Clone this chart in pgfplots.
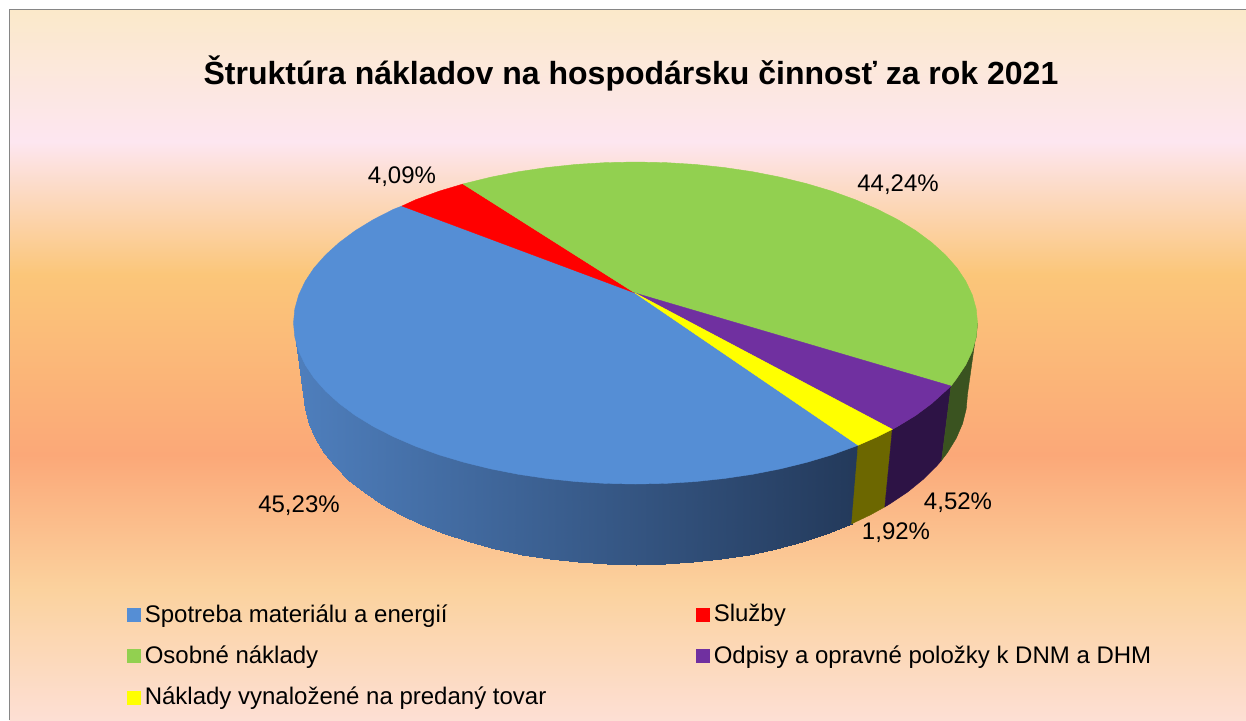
\documentclass[border=0pt]{standalone}
\usepackage{fontspec}
\setmainfont{Liberation Sans}
\usepackage{pgfplots}
\pgfplotsset{compat=1.18}

\definecolor{cblue}{HTML}{558ED5}
\definecolor{cred}{HTML}{FF0000}
\definecolor{cgreen}{HTML}{92D050}
\definecolor{cpurple}{HTML}{7030A0}
\definecolor{cyellow}{HTML}{FFFF00}
\definecolor{sgreen}{HTML}{3A5320}
\definecolor{spurple}{HTML}{2D1345}
\definecolor{syellow}{HTML}{6C6700}
\definecolor{frame}{HTML}{868686}
\definecolor{bg1}{HTML}{FBE9CA}
\definecolor{bg2}{HTML}{FDE6F0}
\definecolor{bg3}{HTML}{FBC679}
\definecolor{bg4}{HTML}{FBA878}
\definecolor{bg5}{HTML}{FBD29E}
\definecolor{bg6}{HTML}{FDDFD4}

\pgfdeclareverticalshading{chartbg}{100bp}{
  color(0bp)=(bg6); color(25bp)=(bg6); color(34.15bp)=(bg5); color(43.66bp)=(bg4);
  color(56.34bp)=(bg3); color(65.7bp)=(bg2); color(75bp)=(bg1); color(100bp)=(bg1)}

\begin{document}
\begin{tikzpicture}[x=1pt,y=1pt]
\path[use as bounding box] (0,0) rectangle (623,360);
\shade[shading=chartbg] (4.75,0) rectangle (623,355.25);
\draw[frame,line width=0.8pt] (4.75,0) -- (4.75,355.25) -- (623,355.25);

\begin{axis}[
  at={(0,0)},anchor=south west,
  scale only axis,width=623pt,height=360pt,
  xmin=0,xmax=1246,ymin=0,ymax=720,y dir=reverse,
  hide axis,no marks,
  colormap={side}{rgb255=(78,126,188) rgb255=(35,57,90)},
  legend columns=2,
  legend cell align=left,
  legend image code/.code={\fill[#1] (0pt,-3.2pt) rectangle (6.5pt,3.3pt);},
  legend style={
    at={(axis cs:127,600)},anchor=north west,
    draw=none,fill=none,font=\fontsize{12pt}{13.5pt}\selectfont,
    row sep=6.3pt,inner sep=0pt,
    /tikz/every even column/.append style={column sep=73pt},
  },
]
% side of the pie
\addplot[forget plot,surf,shader=interp,mesh/cols=2,point meta=x,
  point meta min=300,point meta max=860] coordinates {
  (858.1,443.2)(851.6,523.8)
  (855.3,444.3)(848.9,525)
  (831.7,452.9)(825.9,534.1)
  (806.5,460.4)(801.5,542.1)
  (780,466.9)(775.8,549)
  (752.5,472.3)(749,554.7)
  (724,476.5)(721.4,559.2)
  (694.9,479.6)(693.1,562.4)
  (665.3,481.4)(664.5,564.3)
  (635.5,482)(635.5,565)
  (605.7,481.4)(606.5,564.3)
  (576.1,479.6)(577.9,562.4)
  (547,476.5)(549.6,559.2)
  (518.5,472.3)(522,554.7)
  (491,466.9)(495.2,549)
  (464.5,460.4)(469.5,542.1)
  (439.3,452.9)(445.1,534.1)
  (415.7,444.3)(422.1,525)
  (393.7,434.8)(400.7,514.9)
  (373.5,424.5)(381.2,503.9)
  (355.3,413.4)(363.5,492.1)
  (339.3,401.5)(348,479.5)
  (325.5,389)(334.6,466.3)
  (314.1,376.1)(323.5,452.5)
  (305.2,362.7)(314.8,438.3)
  (298.7,349)(308.5,423.7)
  (294.8,335)(304.8,408.9)
  (293.5,321)(303.5,394)
};
\addplot[forget plot,fill=syellow,draw=syellow,line width=0.2pt] coordinates {
  (892.3,429.3)(877.3,436.8)(858.1,445.2)(851.6,523.8)(870.3,514.9)(884.8,506.9)} -- cycle;
\addplot[forget plot,fill=spurple,draw=spurple,line width=0.2pt] coordinates {
  (951,386)(945.5,391)(931.7,403.5)(915.7,415.4)(897.5,426.5)(892.3,429.3)
  (884.8,506.9)(889.8,503.9)(907.5,492.1)(923,479.5)(936.4,466.3)(941.6,460.3)} -- cycle;
\addplot[forget plot,fill=sgreen,draw=sgreen,line width=0.2pt] coordinates {
  (977.5,323)(976.2,337)(972.3,351)(965.8,364.7)(956.9,378.1)(951,386)
  (941.6,460.3)(947.5,452.5)(956.2,438.3)(962.5,423.7)(966.2,408.9)(967.5,394)} -- cycle;

% top of the pie, one slice per series
\addplot[fill=cblue,draw=cblue,line width=0.2pt] coordinates {
  (635,293)(858.1,445.2)(855.3,446.3)(831.7,454.9)(806.5,462.4)(780,468.9)(752.5,474.3)
  (724,478.5)(694.9,481.6)(665.3,483.4)(635.5,484)(605.7,483.4)(576.1,481.6)(547,478.5)
  (518.5,474.3)(491,468.9)(464.5,462.4)(439.3,454.9)(415.7,446.3)(393.7,436.8)(373.5,426.5)
  (355.3,415.4)(339.3,403.5)(325.5,391)(314.1,378.1)(305.2,364.7)(298.7,351)(294.8,337)
  (293.5,323)(294.8,309)(298.7,295)(305.2,281.3)(314.1,267.9)(325.5,255)(339.3,242.5)
  (355.3,230.6)(373.5,219.5)(393.7,209.2)(402,206)} -- cycle;
\addlegendentry{Spotreba materiálu a energií}
\addplot[fill=cred,draw=cred,line width=0.2pt] coordinates {
  (635,293)(402,206)(415.7,199.7)(439.3,191.1)(463,184)} -- cycle;
\addlegendentry{Služby}
\addplot[fill=cgreen,draw=cgreen,line width=0.2pt] coordinates {
  (635,293)(463,184)(464.5,183.6)(491,177.1)(518.5,171.7)(547,167.5)(576.1,164.4)(605.7,162.6)
  (635.5,162)(665.3,162.6)(694.9,164.4)(724,167.5)(752.5,171.7)(780,177.1)(806.5,183.6)
  (831.7,191.1)(855.3,199.7)(877.3,209.2)(897.5,219.5)(915.7,230.6)(931.7,242.5)(945.5,255)
  (956.9,267.9)(965.8,281.3)(972.3,295)(976.2,309)(977.5,323)(976.2,337)(972.3,351)
  (965.8,364.7)(956.9,378.1)(951,386)} -- cycle;
\addlegendentry{Osobné náklady}
\addplot[fill=cpurple,draw=cpurple,line width=0.2pt] coordinates {
  (635,293)(951,386)(945.5,391)(931.7,403.5)(915.7,415.4)(897.5,426.5)(892.3,429.3)} -- cycle;
\addlegendentry{Odpisy a opravné položky k DNM a DHM}
\addplot[fill=cyellow,draw=cyellow,line width=0.2pt] coordinates {
  (635,293)(892.3,429.3)(877.3,436.8)(858.1,445.2)} -- cycle;
\addlegendentry{Náklady vynaložené na predaný tovar}

\node[font=\bfseries\fontsize{16pt}{19pt}\selectfont] at (axis cs:631,73) {Štruktúra nákladov na hospodársku činnosť za rok 2021};
\node[font=\fontsize{12pt}{14pt}\selectfont] at (axis cs:402,177) {4,09\%};
\node[font=\fontsize{12pt}{14pt}\selectfont] at (axis cs:898,185) {44,24\%};
\node[font=\fontsize{12pt}{14pt}\selectfont] at (axis cs:299,506) {45,23\%};
\node[font=\fontsize{12pt}{14pt}\selectfont] at (axis cs:958,503) {4,52\%};
\node[font=\fontsize{12pt}{14pt}\selectfont] at (axis cs:896,533) {1,92\%};
\end{axis}
\end{tikzpicture}
\end{document}
